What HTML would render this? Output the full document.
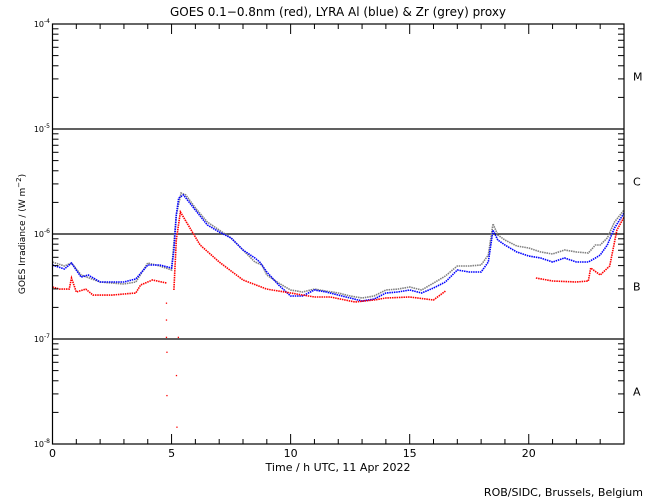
<!DOCTYPE html>
<html><head><meta charset="utf-8"><style>
body{margin:0;background:#fff;}
svg{display:block;font-family:"DejaVu Sans","Liberation Sans",sans-serif;}
</style></head><body>
<svg id="chart" width="650" height="500" viewBox="0 0 650 500">
<rect width="650" height="500" fill="#fff"/>
<text x="338" y="16" font-size="12" text-anchor="middle">GOES 0.1−0.8nm (red), LYRA Al (blue) &amp; Zr (grey) proxy</text>
<text transform="translate(25,234) rotate(-90)" font-size="9" text-anchor="middle">GOES Irradiance / (W m<tspan baseline-shift="super" font-size="7">−2</tspan>)</text>
<text x="338" y="471" font-size="11" text-anchor="middle">Time / h UTC, 11 Apr 2022</text>
<text x="643" y="496" font-size="11" text-anchor="end">ROB/SIDC, Brussels, Belgium</text>
<g id="grid"></g>
<g id="series"></g>
<g id="axes"></g>
</svg>
<script>
// time in hours UTC; values in units of 1e-7 W/m^2 (null = gap)
const redT = [0,0.3,0.7,0.8,1.0,1.4,1.7,2.5,3.0,3.5,3.7,4.2,4.8,null,5.1,5.2,5.37,6.2,7.0,8,9,10,11,11.67,12.7,13.5,14,15,16,16.5,null,20.3,21,22,22.5,22.6,23,23.4,23.7,24];
const redV = [3.13,2.99,2.99,3.81,2.80,2.99,2.62,2.62,2.68,2.74,3.27,3.65,3.41,null,2.93,8.77,16.2,7.86,5.41,3.65,2.99,2.74,2.51,2.51,2.25,2.35,2.46,2.51,2.35,2.86,null,3.81,3.57,3.49,3.57,4.74,4.07,4.96,10.9,14.5];
const redDropT = [4.78,4.78,4.78,4.8,4.8,5.2,5.22,5.28];
const redDropV = [2.2,1.52,1.04,0.75,0.29,0.45,0.145,1.04];
const blueT = [0,0.5,0.8,1.2,1.5,2,3,3.5,4,4.5,5.0,5.1,5.2,5.3,5.5,6,6.5,7,7.5,8,8.5,8.7,9,9.5,10,10.5,11,11.5,12,12.5,13,13.5,14,14.5,15,15.5,16,16.5,17,17.5,18,18.3,18.5,18.7,19,19.5,20,20.5,21,21.5,22,22.5,22.8,23,23.3,23.6,24];
const blueV = [5.07,4.64,5.29,3.89,4.07,3.49,3.49,3.73,5.07,5.07,4.74,7.04,15.2,22.0,23.5,16.9,12.2,10.45,9.16,7.04,5.91,5.41,4.35,3.27,2.57,2.57,2.93,2.80,2.62,2.46,2.30,2.40,2.74,2.80,2.93,2.74,3.06,3.49,4.54,4.35,4.35,5.41,10.9,8.77,7.86,6.74,6.17,5.91,5.41,5.91,5.41,5.41,5.91,6.31,7.86,11.4,15.8];
const greyT = [0,0.5,0.8,1.2,2,3,3.5,4,4.5,5,5.2,5.4,5.6,6,6.5,7,7.5,8,8.5,8.8,9,9.5,10,10.5,11,11.5,12,12.5,13,13.5,14,14.5,15,15.5,16,16.5,17,17.5,18,18.3,18.5,18.7,19,19.5,20,20.5,21,21.5,22,22.5,22.8,23,23.3,23.6,24];
const greyV = [5.41,4.96,5.29,4.07,3.49,3.34,3.49,5.29,4.96,4.54,15.2,24.6,23.5,17.7,13.0,10.9,9.16,7.04,5.41,5.07,4.07,3.41,2.93,2.80,2.99,2.86,2.74,2.57,2.46,2.57,2.93,2.99,3.13,2.93,3.41,3.98,4.96,4.96,5.07,6.31,12.5,9.78,8.77,7.69,7.36,6.74,6.45,7.04,6.74,6.59,7.86,7.86,9.16,13.0,16.9];
const xTickLabels = ["0","5","10","15","20"];
const decadeExps = [-4,-5,-6,-7,-8];
const classLabels = ["M","C","B","A"];

const NS="http://www.w3.org/2000/svg";
const L=52.5,R=624,T=24,B=444;
const X=t=>L+(R-L)*t/24;
const Y=v=>T+(-4-Math.log10(v*1e-7))*(B-T)/4;
function mk(tag,attrs,parent){const e=document.createElementNS(NS,tag);for(const k in attrs)e.setAttribute(k,attrs[k]);parent.appendChild(e);return e;}
const grid=document.getElementById('grid'),ser=document.getElementById('series'),ax=document.getElementById('axes');

[-5,-6,-7].forEach(e=>{const y=Y(Math.pow(10,e+7));
 const l=mk('line',{x1:L,x2:R,y1:y,y2:y,stroke:'#000','stroke-width':1.2},grid);
 
 });

function drawSeries(ts,vs,color,name){
 let segs=[],cur=[];
 ts.forEach((t,i)=>{if(t===null){if(cur.length)segs.push(cur);cur=[];}else cur.push(X(t).toFixed(1)+','+Y(vs[i]).toFixed(1));});
 if(cur.length)segs.push(cur);
 segs.forEach(s=>{const p=mk('polyline',{points:s.join(' '),fill:'none',stroke:color,'stroke-width':1.6,'stroke-dasharray':'1.5 0.8'},ser);
  
  });
}
drawSeries(greyT,greyV,'#808080','zr-grey-series');
drawSeries(blueT,blueV,'#0000ff','al-blue-series');
drawSeries(redT,redV,'#ff0000','goes-red-series');
redDropT.forEach((t,i)=>{const r=mk('rect',{x:X(t)-0.5,y:Y(redDropV[i])-0.5,width:1.3,height:1.3,fill:'#f00'},ser);
 
 });

const frame=mk('rect',{x:L,y:T,width:R-L,height:B-T,fill:'none',stroke:'#000','stroke-width':1.2},ax);


for(let h=0;h<=24;h++){const x=X(h),len=h%5===0?10:5;
 mk('line',{x1:x,x2:x,y1:B,y2:B-len,stroke:'#000'},ax);
 mk('line',{x1:x,x2:x,y1:T,y2:T+len,stroke:'#000'},ax);}
xTickLabels.forEach(s=>{const t=mk('text',{x:X(+s),y:457,'font-size':11,'text-anchor':'middle'},ax);t.textContent=s;
 
 });
decadeExps.forEach((e,i)=>{const y=Y(Math.pow(10,e+7));
 const t=mk('text',{x:50,y:y+3,'font-size':8,'text-anchor':'end'},ax);
 t.innerHTML='10<tspan dy="-4" font-size="6">'+e+'</tspan>';
 
 
 if(i<4){for(let m=2;m<=9;m++){const yy=Y(m*Math.pow(10,e-1+7));
  mk('line',{x1:L,x2:L+6,y1:yy,y2:yy,stroke:'#000'},ax);
  mk('line',{x1:R,x2:R-6,y1:yy,y2:yy,stroke:'#000'},ax);}}});
classLabels.forEach((c,i)=>{const y=Y(Math.pow(10,-4.5-i+7));
 const t=mk('text',{x:633,y:y+4,'font-size':11},ax);t.textContent=c;
 
 });
</script>
</body></html>
